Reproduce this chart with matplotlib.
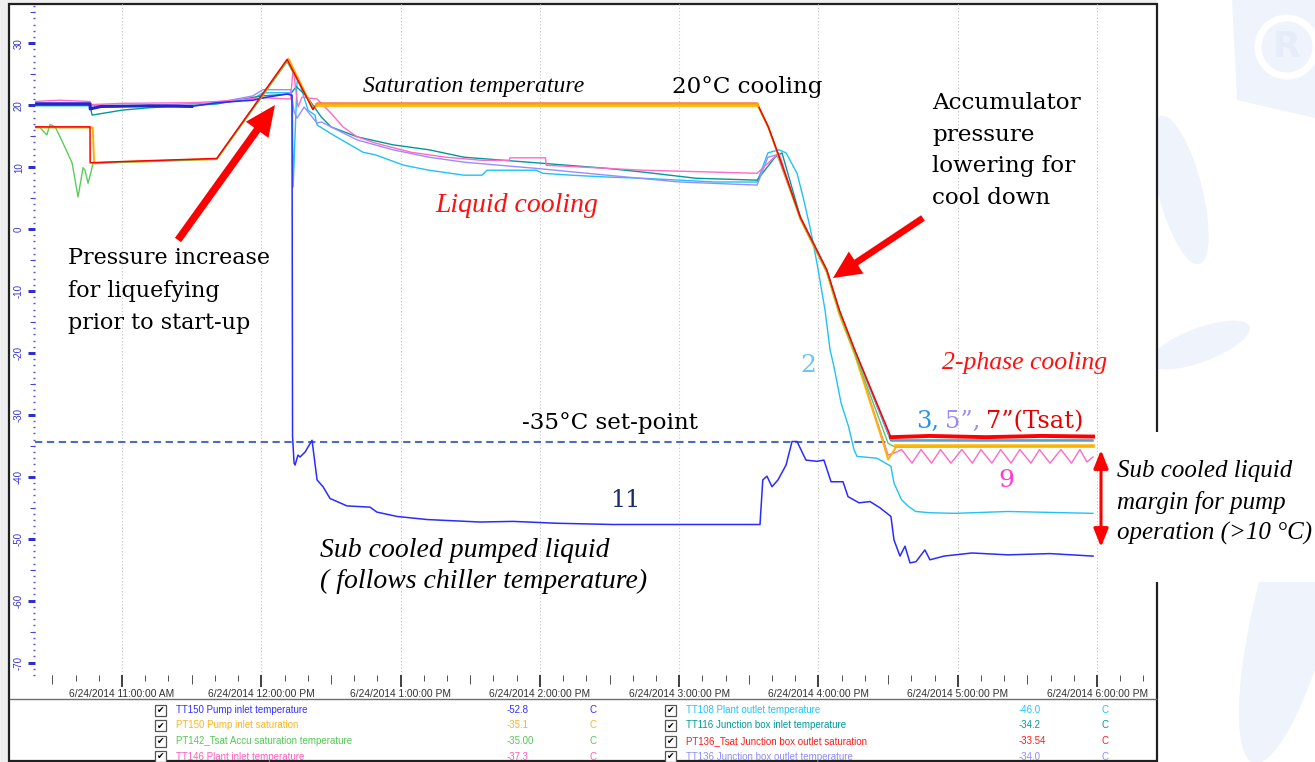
import matplotlib
matplotlib.use("Agg")
import matplotlib.pyplot as plt
from matplotlib.patches import Rectangle, FancyArrowPatch, Polygon, Ellipse, ArrowStyle
from matplotlib.lines import Line2D
from matplotlib.ticker import FixedLocator, NullFormatter
import numpy as np

W, H = 1315, 762

# ---- axis data (time in decimal hours on 6/24/2014, temperature in degC) ----
hour_ticks = [11, 12, 13, 14, 15, 16, 17, 18]
hour_labels = ["6/24/2014 11:00:00 AM", "6/24/2014 12:00:00 PM", "6/24/2014 1:00:00 PM",
               "6/24/2014 2:00:00 PM", "6/24/2014 3:00:00 PM", "6/24/2014 4:00:00 PM",
               "6/24/2014 5:00:00 PM", "6/24/2014 6:00:00 PM"]
y_ticks = [30, 20, 10, 0, -10, -20, -30, -40, -50, -60, -70]
t_range = [10.375, 18.38]
v_range = [-72, 36.5]

setpoint = -34.4
setpoint_span = [10.375, 16.50]

# ---- series ----
tt150_t = [10.375, 10.77, 10.771, 10.85, 11.20, 11.50, 11.68, 11.94, 12.04, 12.185,
           12.220, 12.224, 12.235, 12.242, 12.263, 12.278, 12.314, 12.364, 12.400, 12.443,
           12.493, 12.615, 12.780, 12.830, 12.974, 13.190, 13.570, 13.807, 14.123, 14.525,
           15.580, 15.600, 15.630, 15.666, 15.709, 15.767, 15.810, 15.846, 15.910, 15.989,
           16.039, 16.090, 16.176, 16.212, 16.291, 16.370, 16.441, 16.520, 16.542, 16.585,
           16.621, 16.657, 16.700, 16.764, 16.800, 16.901, 17.102, 17.360, 17.662, 17.971]
tt150_v = [20.2, 20.2, 19.4, 19.8, 19.9, 19.8, 20.4, 20.8, 21.3, 21.8,
           21.6, -33.5, -37.8, -38.1, -36.5, -36.8, -36.0, -34.1, -40.5, -41.6,
           -43.5, -44.7, -44.9, -45.7, -46.4, -46.9, -47.3, -47.2, -47.5, -47.7,
           -47.7, -40.5, -39.9, -41.6, -40.5, -38.1, -34.3, -34.3, -37.3, -37.5,
           -37.3, -40.8, -40.8, -43.2, -44.2, -44.0, -45.0, -46.4, -50.2, -52.8,
           -51.2, -53.9, -53.7, -51.8, -53.4, -52.8, -52.3, -52.6, -52.4, -52.8]

pt150_t = [10.375, 10.79, 10.80, 11.00, 11.68, 12.195, 12.37, 12.40, 15.56, 15.64,
           15.70, 15.87, 16.06, 16.15, 16.26, 16.47, 16.50, 16.56, 17.971]
pt150_v = [16.4, 16.4, 10.6, 10.8, 11.3, 27.5, 19.5, 20.1, 20.1, 16.4,
           12.6, 1.6, -7.0, -13.8, -20.2, -34.9, -37.2, -35.1, -35.1]

pt142_t = [10.375, 10.41, 10.46, 10.483, 10.52, 10.555, 10.641, 10.684, 10.72, 10.734,
           10.756, 10.777, 10.792, 11.00, 11.68, 12.185, 12.37, 12.40, 15.56, 15.64,
           15.70, 15.87, 16.06, 16.15, 16.26, 16.50, 16.55, 17.971]
pt142_v = [16.5, 16.4, 15.2, 16.9, 16.5, 14.9, 10.7, 5.2, 9.9, 9.5,
           7.4, 9.2, 10.7, 10.8, 11.3, 27.0, 19.5, 20.2, 20.2, 16.4,
           12.7, 1.7, -6.9, -13.5, -20.0, -34.6, -35.2, -35.0]

tt146_t = [10.375, 10.55, 10.77, 10.78, 11.00, 11.50, 11.68, 11.90, 12.01, 12.21,
           12.228, 12.263, 12.292, 12.40, 12.50, 12.586, 12.687, 12.816, 13.075, 13.326,
           13.584, 13.78, 13.785, 14.04, 14.045, 14.482, 14.74, 15.25, 15.559, 15.659,
           15.716, 15.87, 16.06, 16.15, 16.26, 16.50, 16.56, 16.597, 16.671, 16.736,
           16.812, 16.876, 16.951, 17.029, 17.105, 17.166, 17.245, 17.308, 17.382, 17.446,
           17.525, 17.587, 17.662, 17.741, 17.816, 17.877, 17.927, 17.971]
tt146_v = [20.6, 20.8, 20.6, 20.1, 20.3, 20.4, 20.6, 21.0, 21.2, 21.0,
           26.0, 19.7, 21.3, 21.0, 18.7, 16.5, 14.9, 13.9, 12.4, 11.6,
           11.1, 11.1, 11.5, 11.5, 10.3, 9.8, 9.5, 9.2, 9.0, 11.1,
           12.3, 1.6, -7.0, -13.6, -20.0, -36.5, -36.0, -35.6, -37.8, -35.6,
           -37.8, -35.6, -37.8, -35.6, -37.8, -35.6, -37.8, -35.6, -37.8, -35.6,
           -37.8, -35.6, -37.8, -35.6, -37.8, -35.6, -37.6, -36.8]

tt108_t = [10.375, 10.77, 11.50, 11.68, 11.94, 12.01, 12.21, 12.222, 12.228, 12.242,
           12.256, 12.263, 12.335, 12.385, 12.40, 12.515, 12.615, 12.73, 12.816, 13.024,
           13.204, 13.455, 13.584, 13.62, 13.972, 14.022, 14.223, 14.482, 14.74, 15.00,
           15.25, 15.559, 15.637, 15.716, 15.767, 15.846, 15.889, 15.939, 15.989, 16.047,
           16.083, 16.111, 16.162, 16.216, 16.255, 16.276, 16.42, 16.52, 16.542, 16.596,
           16.647, 16.698, 16.80, 16.98, 17.36, 17.971]
tt108_v = [19.9, 19.9, 19.9, 20.3, 21.0, 22.0, 22.0, 21.5, 6.8, 15.0,
           23.6, 24.4, 19.2, 18.4, 16.8, 15.2, 13.9, 12.4, 12.0, 10.3,
           9.5, 8.7, 8.7, 9.5, 9.5, 9.0, 8.7, 8.4, 8.2, 7.9,
           7.6, 7.6, 12.3, 12.8, 12.3, 9.0, 5.2, 0.3, -5.5, -13.1,
           -19.5, -22.2, -28.1, -31.9, -35.6, -36.7, -37.0, -38.3, -41.0, -43.7,
           -44.8, -45.6, -45.8, -45.9, -45.6, -45.9]

tt116_t = [10.375, 10.77, 10.785, 11.00, 11.20, 11.68, 12.00, 12.21, 12.25, 12.30,
           12.33, 12.43, 12.50, 12.687, 12.945, 13.204, 13.455, 13.972, 14.482, 14.74,
           15.121, 15.559, 15.688, 15.738, 15.87, 16.06, 16.15, 16.26, 16.52, 17.971]
tt116_v = [20.0, 20.0, 18.4, 19.2, 19.6, 20.2, 21.5, 21.8, 23.0, 22.0,
           21.3, 18.1, 16.5, 14.9, 13.6, 12.8, 11.6, 10.7, 9.8, 9.2,
           8.2, 7.9, 11.6, 12.3, 1.9, -6.7, -13.2, -19.6, -34.2, -34.2]

pt136_t = [10.375, 10.77, 10.771, 11.00, 11.68, 12.185, 12.37, 12.40, 15.56, 15.64,
           15.70, 15.87, 16.06, 16.15, 16.26, 16.52, 16.80, 17.20, 17.60, 17.971]
pt136_v = [16.5, 16.5, 10.7, 10.9, 11.4, 27.4, 19.3, 20.3, 20.3, 16.5,
           12.8, 1.9, -6.6, -13.1, -19.5, -33.6, -33.4, -33.6, -33.4, -33.5]

tt136_t = [10.375, 10.77, 10.78, 11.00, 11.68, 11.94, 12.01, 12.21, 12.235, 12.256,
           12.307, 12.40, 12.43, 12.687, 12.945, 13.204, 13.455, 13.972, 14.482, 15.00,
           15.559, 15.637, 15.702, 15.87, 16.06, 16.15, 16.26, 16.52, 17.971]
tt136_v = [20.4, 20.4, 19.6, 19.8, 20.4, 21.5, 22.5, 22.5, 19.0, 17.9,
           19.7, 17.1, 17.3, 14.4, 12.8, 11.6, 10.8, 9.8, 8.7, 7.6,
           7.1, 11.6, 12.0, 1.8, -6.8, -13.3, -19.7, -34.0, -34.0]

# ---- legend table ----
legend_names = ["TT150 Pump inlet temperature", "PT150 Pump inlet saturation",
                "PT142_Tsat Accu saturation temperature", "TT146 Plant inlet temperature",
                "TT108 Plant outlet temperature", "TT116 Junction box inlet temperature",
                "PT136_Tsat Junction box outlet saturation", "TT136 Junction box outlet temperature"]
legend_values = ["-52.8", "-35.1", "-35.00", "-37.3", "-46.0", "-34.2", "-33.54", "-34.0"]
legend_colors = ["#3030ff", "#ffb41e", "#55c855", "#ff5cc0",
                 "#1ec4ff", "#009a9a", "#ff1a1a", "#8c8cff"]

c_blue, c_orange, c_green, c_pink = "#2b2bff", "#ffb300", "#5ccc5c", "#ff6ac8"
c_cyan, c_teal, c_red, c_lav = "#1ec2f5", "#00999a", "#ff0000", "#9a8cff"


def fx(x):
    return x / W


def fy(y):
    return 1 - y / H


def pt(px):
    # pixel size -> points at 100 dpi
    return px * 0.72


fig = plt.figure(figsize=(W / 100, H / 100), dpi=100)
fig.patch.set_facecolor("white")

# faint watermark on the right side
wm = "#eff3fb"
fig.add_artist(Polygon([(fx(1232), fy(0)), (fx(1315), fy(0)), (fx(1315), fy(118)), (fx(1237), fy(100))],
                       closed=True, transform=fig.transFigure, facecolor=wm, edgecolor="none", zorder=-3))
fig.add_artist(Ellipse((fx(1287), fy(47)), 58 / W, 58 / H, transform=fig.transFigure,
                       facecolor="none", edgecolor="white", lw=5, zorder=-2))
fig.text(fx(1287), fy(47), "R", ha="center", va="center",
         fontsize=26, fontweight="bold", color="#e6ecf8", zorder=-2)
fig.add_artist(Ellipse((fx(1180), fy(190)), 45 / W, 150 / H, angle=8, transform=fig.transFigure,
                       facecolor=wm, edgecolor="none", zorder=-3))
fig.add_artist(Ellipse((fx(1200), fy(345)), 120 / W, 30 / H, angle=38, transform=fig.transFigure,
                       facecolor=wm, edgecolor="none", zorder=-3))
fig.add_artist(Ellipse((fx(1295), fy(600)), 80 / W, 330 / H, angle=-8, transform=fig.transFigure,
                       facecolor=wm, edgecolor="none", zorder=-3))

# screenshot window: grey margin, frame, separator above the legend table
fig.add_artist(Rectangle((0, 0), fx(9), 1, transform=fig.transFigure,
                         facecolor="#efefef", edgecolor="none", zorder=-2))
fig.add_artist(Rectangle((0, fy(4)), fx(1157), 4 / H, transform=fig.transFigure,
                         facecolor="#efefef", edgecolor="none", zorder=-2))
fig.add_artist(Rectangle((fx(9), fy(761)), fx(1157 - 9), (761 - 4) / H, transform=fig.transFigure,
                         facecolor="white", edgecolor="#202020", lw=1.6, zorder=-1))
fig.add_artist(Line2D([fx(10), fx(1156)], [fy(699), fy(699)], transform=fig.transFigure,
                      color="#6e6e6e", lw=1.0, zorder=-1))

ax = fig.add_axes([fx(35), fy(675), fx(1150 - 35), (675 - 3) / H])
ax.patch.set_alpha(0)
for s in ax.spines.values():
    s.set_visible(False)
ax.set_xlim(*t_range)
ax.set_ylim(*v_range)

# x axis: hours, half hours, 10 minutes
ax.set_xticks(hour_ticks)
ax.set_xticklabels(hour_labels, fontsize=7.4, color="#333333", family="Liberation Sans")
ax.xaxis.set_minor_locator(FixedLocator(np.arange(10.5, 18.4, 1 / 6)))
ax.tick_params(axis="x", which="major", length=pt(12), width=pt(2), color="#444444",
               pad=pt(2), direction="out")
ax.tick_params(axis="x", which="minor", length=pt(6), width=pt(1), color="#555555", direction="out")
secx = ax.secondary_xaxis("bottom")
secx.set_xticks(np.arange(10.5, 18.4, 1.0))
secx.xaxis.set_major_formatter(NullFormatter())
secx.tick_params(length=pt(9), width=pt(1), color="#555555")
secx.spines["bottom"].set_visible(False)

# y axis: tens labelled, fives, ones
ax.set_yticks(y_ticks)
ax.set_yticklabels([str(v) for v in y_ticks], fontsize=7, color="#3535d0", family="Liberation Sans")
ax.yaxis.set_minor_locator(FixedLocator(np.arange(-72, 37, 1)))
ax.tick_params(axis="y", which="major", length=pt(7), width=pt(3), color="#2f2fd0",
               pad=pt(4), labelrotation=90)
ax.tick_params(axis="y", which="minor", length=pt(2), width=pt(1.4), color="#5050e0")
for lab in ax.get_yticklabels():
    lab.set_verticalalignment("center")
secy = ax.secondary_yaxis("left")
secy.set_yticks(np.arange(-65, 36, 10))
secy.yaxis.set_major_formatter(NullFormatter())
secy.tick_params(length=pt(5), width=pt(1), color="#3a3ad8")
secy.spines["left"].set_visible(False)

ax.grid(axis="x", which="major", color="#c4c4c4", ls=(0, (1, 2)), lw=0.8)

# set-point
ax.hlines(setpoint, setpoint_span[0], setpoint_span[1], colors="#4d6cbf",
          linestyles=(0, (3.5, 2.2)), lw=1.5, zorder=2)

# traces
ax.plot(tt108_t, tt108_v, color=c_cyan, lw=1.0, zorder=3)
ax.plot(tt116_t, tt116_v, color=c_teal, lw=1.0, zorder=3)
ax.plot(tt136_t, tt136_v, color=c_lav, lw=1.0, zorder=3)
ax.plot(tt146_t, tt146_v, color=c_pink, lw=1.0, zorder=3)
ax.plot(tt150_t, tt150_v, color=c_blue, lw=1.1, zorder=4)
n_left = tt150_t.index(11.50) + 1
ax.plot(tt150_t[:n_left], tt150_v[:n_left], color="#2424c8", lw=2.2, zorder=4)
ax.plot(pt150_t, pt150_v, color=c_orange, lw=1.4, zorder=4)
ax.plot(pt142_t, pt142_v, color=c_green, lw=1.0, zorder=4)
ax.plot(pt136_t, pt136_v, color=c_red, lw=1.1, zorder=5)
# saturation plateau and final level are noisy bands in the recording
i0, i1 = pt150_t.index(12.40), pt150_t.index(15.56)
ax.plot(pt150_t[i0:i1 + 1], pt150_v[i0:i1 + 1], color=c_orange, lw=3.2, alpha=0.85, zorder=6)
j0 = pt150_t.index(16.56)
ax.plot(pt150_t[j0:], pt150_v[j0:], color=c_orange, lw=2.6, alpha=0.9, zorder=5)
k0 = pt136_t.index(16.52)
ax.plot(pt136_t[k0:], pt136_v[k0:], color=c_red, lw=2.8, zorder=7)

# ---- annotations ----
serif = "DejaVu Serif"
ital = "Liberation Serif"


def label(x, y, s, size, color="black", italic=False):
    return fig.text(fx(x), fy(y), s, ha="left", va="baseline", fontsize=size, color=color,
                    family=ital if italic else serif, style="italic" if italic else "normal",
                    zorder=8)


for i, s in enumerate(["Pressure increase", "for liquefying", "prior to start-up"]):
    label(68, 264 + 32.5 * i, s, 16)
for i, s in enumerate(["Accumulator", "pressure", "lowering for", "cool down"]):
    label(932, 109 + 31.7 * i, s, 16.6)
label(363, 92, "Saturation temperature", 17, italic=True)
label(672, 93, "20°C cooling", 16.6)
label(435, 212, "Liquid cooling", 20, color="#ff1010", italic=True)
label(522, 429, "-35°C set-point", 16.6)
label(800, 372, "2", 18, color="#6cc6f0")
label(942, 369, "2-phase cooling", 18.5, color="#ff1010", italic=True)
label(998, 487, "9", 18, color="#ff3ccf")
label(610, 507, "11", 17, color="#1c2a6e")
label(320, 557, "Sub cooled pumped liquid", 20, italic=True)
label(320, 588, "( follows chiller temperature)", 20, italic=True)

fig.canvas.draw()
r = fig.canvas.get_renderer()
x_next = 916
for s, col in [("3,", "#2a93e8"), ("5”,", "#9c8cf5"), ("7”(Tsat)", "#e80000")]:
    t = label(x_next, 428, s, 17.4, color=col)
    x_next = t.get_window_extent(r).x1 + 6

# white box behind the right-hand note
fig.add_artist(Rectangle((fx(1108), fy(582)), fx(1315 - 1108), (582 - 432) / H,
                         transform=fig.transFigure, facecolor="white", edgecolor="none", zorder=7))
for i, s in enumerate(["Sub cooled liquid", "margin for pump", "operation (>10 °C)"]):
    label(1117, 477 + 31.5 * i, s, 18, italic=True)

# red arrows
fig.add_artist(FancyArrowPatch((fx(178), fy(240)), (fx(275), fy(105)), transform=fig.transFigure,
                               arrowstyle=ArrowStyle.Simple(head_length=1.1, head_width=1.0, tail_width=0.27),
                               mutation_scale=20, color="#ff0000", lw=0,
                               shrinkA=0, shrinkB=0, zorder=9))
fig.add_artist(FancyArrowPatch((fx(923), fy(218)), (fx(833), fy(278)), transform=fig.transFigure,
                               arrowstyle=ArrowStyle.Simple(head_length=1.0, head_width=0.95, tail_width=0.24),
                               mutation_scale=20, color="#ff0000", lw=0,
                               shrinkA=0, shrinkB=0, zorder=9))
fig.add_artist(FancyArrowPatch((fx(1101), fy(450)), (fx(1101), fy(547)), transform=fig.transFigure,
                               arrowstyle=ArrowStyle("<|-|>", head_length=0.55, head_width=0.22),
                               mutation_scale=20, color="#ff0000", lw=2.2,
                               shrinkA=0, shrinkB=0, zorder=9))

# ---- legend table under the chart ----
rows_y = [710, 725.5, 741, 756.5]
for k, (name, val, col) in enumerate(zip(legend_names, legend_values, legend_colors)):
    col_i, row_i = divmod(k, 4)
    y = rows_y[row_i]
    xb = [155, 665][col_i]
    xn = [176, 686][col_i]
    xv = [507, 1019][col_i]
    xu = [590, 1102][col_i]
    fig.add_artist(Rectangle((fx(xb), fy(y + 5.5)), 11 / W, 11 / H, transform=fig.transFigure,
                             facecolor="white", edgecolor="#555555", lw=0.9, zorder=2))
    fig.text(fx(xb + 5.5), fy(y + 0.5), "✔", ha="center", va="center", fontsize=6.5,
             color="black", family="DejaVu Sans", zorder=3)
    for xx, s in [(xn, name), (xv, val), (xu, "C")]:
        fig.text(fx(xx), fy(y), s, ha="left", va="center", fontsize=7.0, color=col,
                 family="Liberation Sans", zorder=3)

fig.savefig("out.png", dpi=100, facecolor="white")
